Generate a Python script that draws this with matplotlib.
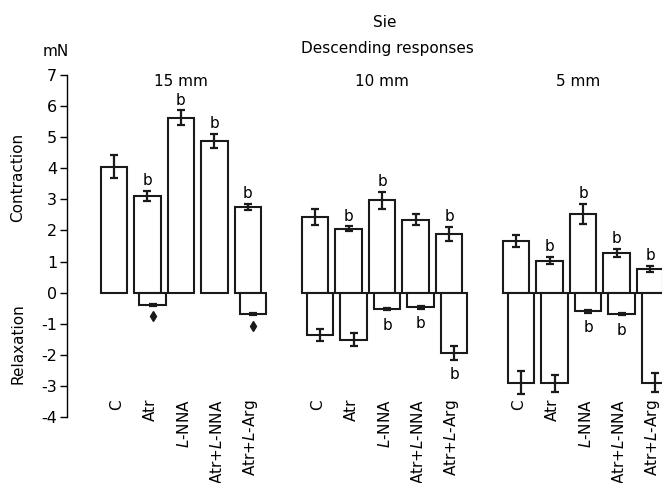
import matplotlib
matplotlib.use("Agg")
import matplotlib.pyplot as plt
import numpy as np

# data (mN)
groups = ['15 mm', '10 mm', '5 mm']
treatments = ['C', 'Atr', '$\\mathit{L}$-NNA', 'Atr+$\\mathit{L}$-NNA', 'Atr+$\\mathit{L}$-Arg']

contraction = [[4.05, 3.11, 5.62, 4.87, 2.75],
               [2.43, 2.05, 2.97, 2.35, 1.89],
               [1.65, 1.03, 2.54, 1.27, 0.76]]
contraction_err = [[0.37, 0.15, 0.24, 0.23, 0.10],
                   [0.27, 0.08, 0.27, 0.17, 0.23],
                   [0.19, 0.12, 0.32, 0.13, 0.10]]
relaxation = [[0.0, -0.39, 0.0, 0.0, -0.69],
              [-1.37, -1.52, -0.53, -0.47, -1.93],
              [-2.89, -2.92, -0.60, -0.69, -2.89]]
relaxation_err = [[0.0, 0.04, 0.0, 0.0, 0.04],
                  [0.19, 0.21, 0.04, 0.04, 0.22],
                  [0.38, 0.28, 0.04, 0.04, 0.30]]
contraction_sig = [[0, 1, 1, 1, 1],
                   [0, 1, 1, 0, 1],
                   [0, 1, 1, 1, 1]]
relaxation_sig = [[0, 0, 0, 0, 0],
                  [0, 0, 1, 1, 1],
                  [0, 0, 1, 1, 0]]
relaxation_diamond = [[0, 1, 0, 0, 1],
                      [0, 0, 0, 0, 0],
                      [0, 0, 0, 0, 0]]

plt.rcParams['font.family'] = 'DejaVu Sans'
plt.rcParams['font.size'] = 11
plt.rcParams['axes.unicode_minus'] = False

fig = plt.figure(figsize=(6.62, 4.83), dpi=100)
ax = fig.add_axes([0.1012, 0.1366, 0.8988, 0.7081])

w = 0.78
shift = 0.15
ekw = dict(fmt='none', ecolor='#1a1a1a', elinewidth=1.6, capsize=3.2, capthick=1.6)

for g in range(len(groups)):
    for i in range(len(treatments)):
        x = i + 6 * g
        c = contraction[g][i]
        ce = contraction_err[g][i]
        ax.bar(x, c, width=w, color='white', edgecolor='#1a1a1a', linewidth=1.5, zorder=2)
        ax.errorbar(x, c, yerr=ce, zorder=3, **ekw)
        if contraction_sig[g][i]:
            ax.text(x, c + ce + 0.19, 'b', ha='center', va='baseline', fontsize=11)
        r = relaxation[g][i]
        if r != 0:
            re = relaxation_err[g][i]
            xr = x + shift
            ax.bar(xr, r, width=w, color='white', edgecolor='#1a1a1a', linewidth=1.5, zorder=2)
            ax.errorbar(xr, r, yerr=re, zorder=3, **ekw)
            if relaxation_sig[g][i]:
                ax.text(xr, r - re - 0.62, 'b', ha='center', va='baseline', fontsize=11)
            if relaxation_diamond[g][i]:
                ax.plot(xr, r - re - 0.33, marker='d', color='#1a1a1a', markersize=5.5, zorder=3)
        ax.text(x + shift / 2, -3.42, treatments[i], rotation=90, ha='center', va='top',
                fontsize=11, clip_on=False)

# panel titles
ax.text(2, 6.8, groups[0], ha='center', va='center', fontsize=11)
ax.text(8, 6.8, groups[1], ha='center', va='center', fontsize=11)
ax.text(13.85, 6.8, groups[2], ha='center', va='center', fontsize=11)

ax.set_xlim(-1.403, 16.358)
ax.set_ylim(-4, 7)
ax.set_yticks(np.arange(-4, 8))
ax.set_xticks([])
for s in ['top', 'right', 'bottom']:
    ax.spines[s].set_visible(False)
ax.spines['left'].set_linewidth(1.0)
ax.tick_params(axis='y', length=5, width=1.0, pad=2, labelsize=11.5)
ax.patch.set_alpha(0)

ax.text(-2.87, 3.7, 'Contraction', rotation=90, ha='center', va='center', clip_on=False)
ax.text(-2.87, -1.65, 'Relaxation', rotation=90, ha='center', va='center', clip_on=False)

fig.text(55.5 / 662, 1 - 52 / 483, 'mN', ha='center', va='center', fontsize=11)
fig.text(385 / 662, 1 - 22.5 / 483, 'Sie', ha='center', va='center', fontsize=11)
fig.text(387 / 662, 1 - 49 / 483, 'Descending responses', ha='center', va='center', fontsize=11)

fig.savefig('out.png', dpi=100)
